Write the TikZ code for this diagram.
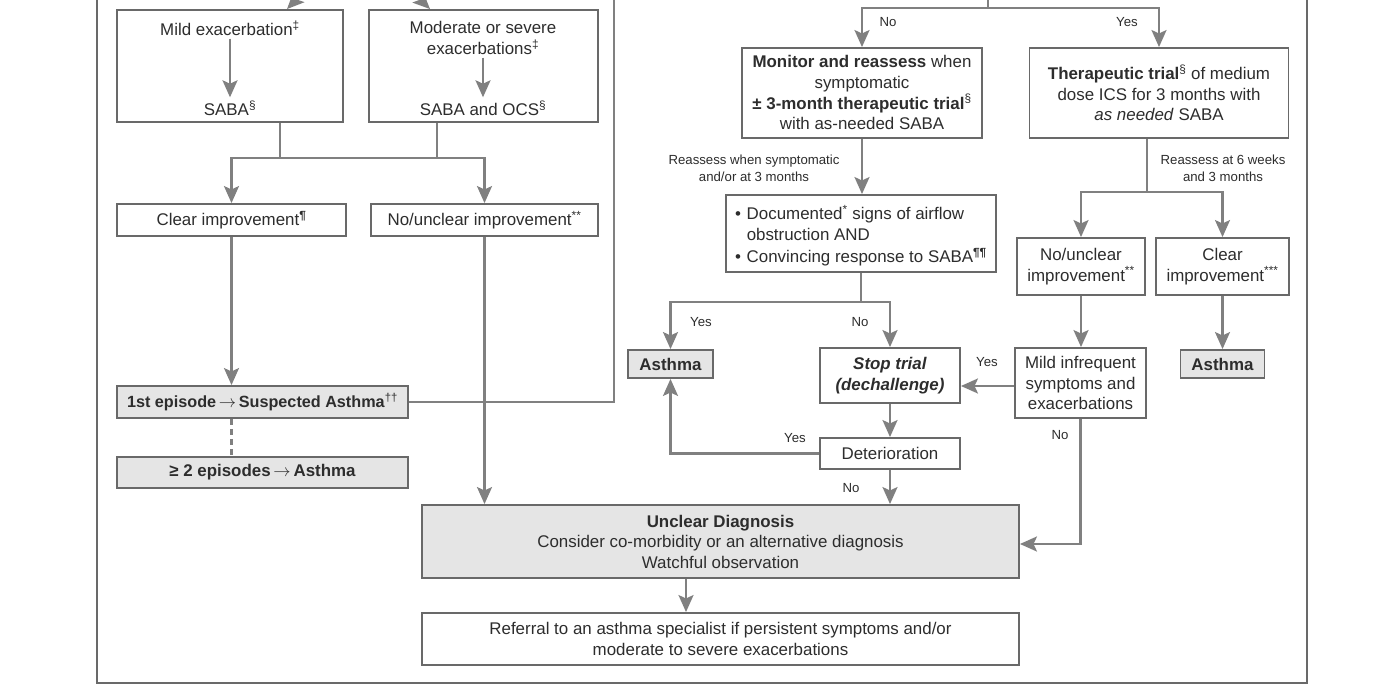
\documentclass[tikz,border=0pt]{standalone}
\usepackage{fontspec}
\setmainfont{Liberation Sans}
\usetikzlibrary{arrows.meta}
\definecolor{linec}{RGB}{128,128,128}
\definecolor{boxc}{RGB}{105,105,105}
\definecolor{fillc}{RGB}{229,229,229}
\definecolor{textc}{RGB}{45,45,45}
\newcommand{\mainsz}{\fontsize{16.9}{20.5}\selectfont}
\newcommand{\smallsz}{\fontsize{13.2}{17}\selectfont}
\newcommand{\rarr}{\,$\rightarrow$\,}
\begin{document}
\begin{tikzpicture}[x=1pt,y=-1pt,
  box/.style={draw=boxc,line width=1.9pt,fill=white,text=textc,font=\mainsz,align=center,inner sep=0pt},
  gbox/.style={box,fill=fillc},
  txt/.style={text=textc,font=\mainsz,align=center,inner sep=3pt},
  lbl/.style={text=textc,font=\smallsz,align=center,inner sep=0pt},
  ln/.style={draw=linec,line width=2.4pt},
  arr/.style={ln,-{Stealth[length=17pt,width=15pt,inset=3.5pt]}},
  frm/.style={draw=boxc,line width=2pt}]
\clip (0,0) rectangle (1400,700);
\fill[white] (0,0) rectangle (1400,700);
\draw[frm] (97,-20) rectangle (1307,683);

% ---------- left part ----------
\node[box,minimum width=226pt,minimum height=112pt] (mild) at (230,66) {};
\node[txt] (mildA) at (230,28) {Mild exacerbation\textsuperscript{‡}};
\node[txt] (mildB) at (230,108) {SABA\textsuperscript{§}};
\node[box,minimum width=229pt,minimum height=112pt] (mod) at (483.5,66) {};
\node[txt] (modA) at (483,38) {Moderate or severe\\exacerbations\textsuperscript{‡}};
\node[txt] (modB) at (483,108) {SABA and OCS\textsuperscript{§}};
\draw[arr] (mildA.south) -- (mildB.north);
\draw[arr] (modA.south) -- (modB.north);

\coordinate (topC) at (357,-62);
\coordinate (xL) at (287,0);
\coordinate (xR) at (430,0);
\draw[arr] (topC) -- (mild.north -| xL);
\draw[arr] (topC) -- (mod.north -| xR);

\node[box,minimum width=229pt,minimum height=32pt] (clear) at (231.5,220) {Clear improvement\textsuperscript{\textbf{¶}}};
\node[box,minimum width=227pt,minimum height=32pt] (nounc) at (484.5,220) {No/unclear improvement\textsuperscript{**}};

\coordinate (xa) at (280,0);
\coordinate (xb) at (437,0);
\coordinate (jl) at (231.5,158);
\coordinate (jr) at (484.5,158);
\draw[ln] (mild.south -| xa) -- (xa |- jl);
\draw[ln] (mod.south -| xb) -- (xb |- jl);
\draw[arr] (jr) -- (jl) -- (clear.north);
\draw[arr] (jl) -- (jr) -- (nounc.north);

\node[gbox,minimum width=291pt,minimum height=32pt,font=\fontsize{16.2}{20}\selectfont] (first) at (262.5,402) {\textbf{1st episode\rarr Suspected Asthma}\textsuperscript{††}};
\node[gbox,minimum width=291pt,minimum height=31pt] (second) at (262.5,472.5) {\textbf{≥ 2 episodes\rarr Asthma}};
\draw[arr] (clear.south) -- (clear.south |- first.north);
\draw[ln,line width=2.2pt,dash pattern=on 6pt off 4pt] (first.south -| clear.south) -- (second.north -| clear.south);
\coordinate (topL) at (614,-20);
\draw[ln] (first.east) -| (topL);

% ---------- right part ----------
\coordinate (topR) at (988,-20);
\coordinate (jt) at (988,8);
\node[box,minimum width=240pt,minimum height=90pt] (monitor) at (862,93)
  {\raisebox{-1.5pt}[\height][\depth]{\begin{tabular}{@{}c@{}}\textbf{Monitor and reassess} when\\symptomatic\\\textbf{± 3-month therapeutic trial}\textsuperscript{§}\\with as-needed SABA\end{tabular}}};
\node[box,minimum width=259pt,minimum height=90pt] (therap) at (1159,93)
  {\textbf{Therapeutic trial}\textsuperscript{§} of medium\\dose ICS for 3 months with\\\textit{as needed} SABA};
\draw[ln] (topR) -- (jt);
\draw[arr] (jt) -| (monitor.north);
\draw[arr] (jt) -| (therap.north);
\node[lbl] (lno1) at (888,22) {No};
\node[lbl] (lyes1) at (1127,22) {Yes};

\node[box,minimum width=270pt,minimum height=77pt] (doc) at (861,233.5)
  {\raisebox{-3.5pt}[\height][\depth]{\begin{tabular}{@{}l@{\,\,}l@{}}•&Documented\textsuperscript{*} signs of airflow\\&obstruction AND\\[2pt]•&Convincing response to SABA\textsuperscript{\textbf{¶¶}}\end{tabular}}};
\draw[arr] (monitor.south) -- (monitor.south |- doc.north);
\node[lbl] (lre1) at (754,168) {Reassess when symptomatic\\and/or at 3 months};

\node[box,minimum width=128pt,minimum height=57pt] (nounc2) at (1081,266.5) {No/unclear\\improvement\textsuperscript{**}};
\node[box,minimum width=133pt,minimum height=57pt] (clear2) at (1222.5,266.5) {Clear\\improvement\textsuperscript{***}};
\coordinate (jt2) at (1147,192);
\draw[ln] (therap.south -| jt2) -- (jt2);
\draw[arr] (jt2) -| (nounc2.north);
\draw[arr] (jt2) -| (clear2.north);
\node[lbl] (lre2) at (1223,168) {Reassess at 6 weeks\\and 3 months};

\node[gbox,minimum width=85pt,minimum height=28pt] (asthL) at (670.5,364) {\textbf{Asthma}};
\node[box,minimum width=140pt,minimum height=55pt] (stop) at (890,375.5) {\textbf{\textit{Stop trial}}\\\textbf{\textit{(dechallenge)}}};
\node[box,minimum width=131pt,minimum height=70pt] (mildinf) at (1080.5,383) {Mild infrequent\\symptoms and\\exacerbations};
\node[gbox,minimum width=84pt,minimum height=28pt] (asthR) at (1222.5,364) {\textbf{Asthma}};
\node[box,minimum width=140pt,minimum height=31pt] (deter) at (890,453.5) {Deterioration};

\coordinate (jd) at (861,302);
\draw[ln] (doc.south) -- (jd);
\draw[arr] (jd) -| (asthL.north);
\draw[arr] (jd) -| (stop.north);
\node[lbl] (lyes2) at (701,322) {Yes};
\node[lbl] (lno2) at (860,322) {No};

\draw[arr] (nounc2.south) -- (nounc2.south |- mildinf.north);
\draw[arr] (clear2.south) -- (clear2.south |- asthR.north);
\coordinate (ys) at (0,386);
\draw[arr] (mildinf.west |- ys) -- (stop.east |- ys);
\node[lbl] (lyes3) at (987,362) {Yes};
\draw[arr] (stop.south) -- (deter.north);
\draw[arr] (deter.west) -| (asthL.south);
\node[lbl] (lyes4) at (795,438) {Yes};

\node[gbox,minimum width=597pt,minimum height=73pt] (unclear) at (720.5,541.5)
  {\textbf{Unclear Diagnosis}\\Consider co-morbidity or an alternative diagnosis\\Watchful observation};
\node[box,minimum width=597pt,minimum height=52pt] (referral) at (720.5,639)
  {Referral to an asthma specialist if persistent symptoms and/or\\moderate to severe exacerbations};
\draw[arr] (nounc.south) -- (nounc.south |- unclear.north);
\draw[arr] (deter.south) -- (deter.south |- unclear.north);
\node[lbl] (lno3) at (851,488) {No};
\coordinate (yu) at (0,544);
\draw[arr] (mildinf.south) -- (mildinf.south |- yu) -- (unclear.east |- yu);
\node[lbl] (lno4) at (1060,435) {No};
\coordinate (xr) at (686,0);
\draw[arr] (unclear.south -| xr) -- (referral.north -| xr);
\end{tikzpicture}
\end{document}
